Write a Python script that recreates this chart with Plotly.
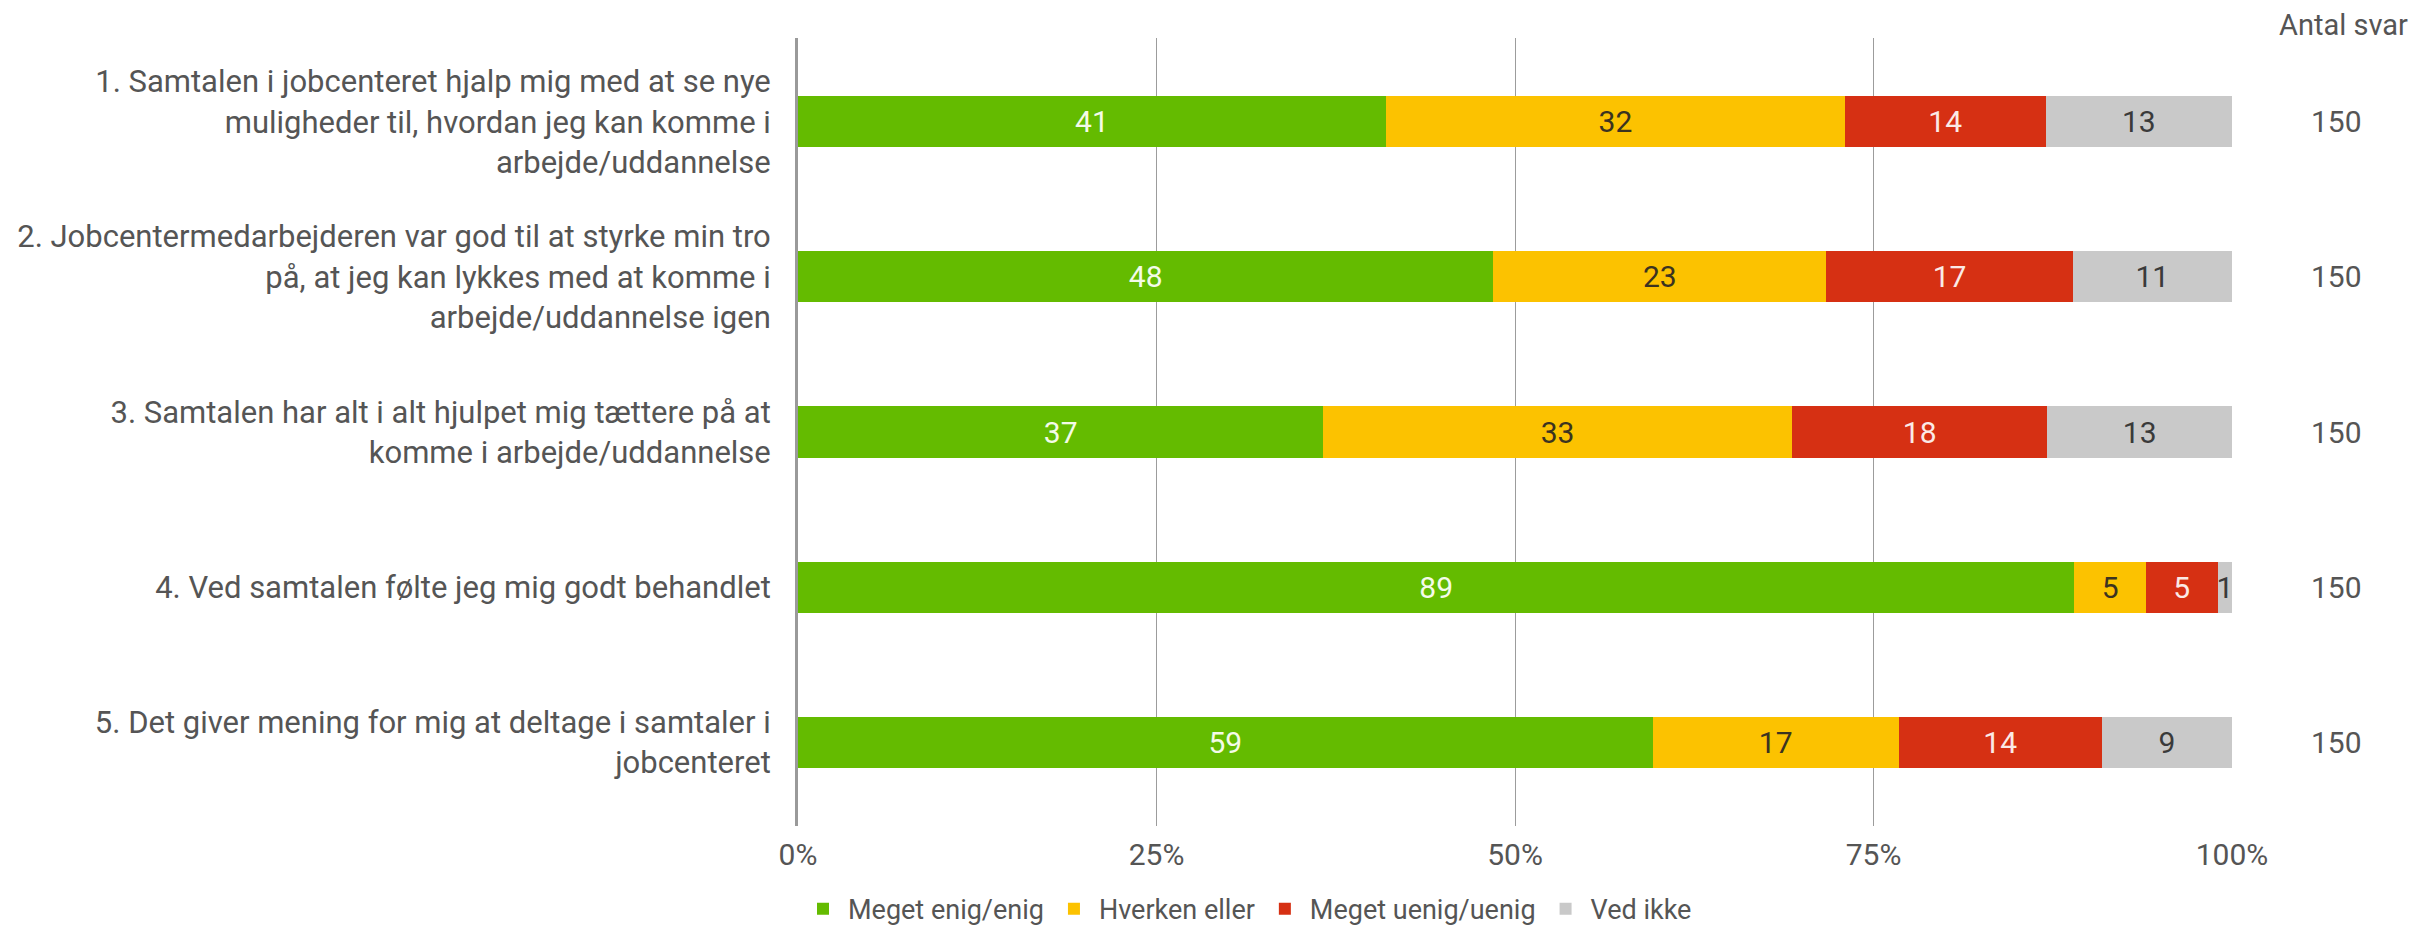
import plotly.graph_objects as go

# Survey statements (y-axis categories, top to bottom)
statements = [
    "1. Samtalen i jobcenteret hjalp mig med at se nye<br>muligheder til, hvordan jeg kan komme i<br>arbejde/uddannelse",
    "2. Jobcentermedarbejderen var god til at styrke min tro<br>på, at jeg kan lykkes med at komme i<br>arbejde/uddannelse igen",
    "3. Samtalen har alt i alt hjulpet mig tættere på at<br>komme i arbejde/uddannelse",
    "4. Ved samtalen følte jeg mig godt behandlet",
    "5. Det giver mening for mig at deltage i samtaler i<br>jobcenteret",
]

# Answer shares (percent) per response category
meget_enig = [41, 48, 37, 89, 59]
hverken = [32, 23, 33, 5, 17]
meget_uenig = [14, 17, 18, 5, 14]
ved_ikke = [13, 11, 13, 1, 9]

# Number of responses per statement
antal_svar = [150, 150, 150, 150, 150]

series_names = ["Meget enig/enig", "Hverken eller", "Meget uenig/uenig", "Ved ikke"]
series_values = [meget_enig, hverken, meget_uenig, ved_ikke]
series_colors = ["#64bb00", "#fcc200", "#d63013", "#c9c9c9"]
label_colors = ["#f4fbe8", "#3b3320", "#fbeae6", "#3a3a3a"]

x_ticks = [0, 25, 50, 75, 100]
x_tick_labels = ["0%", "25%", "50%", "75%", "100%"]

FONT = "Roboto"
TEXT_GREY = "#555555"
FS = 30

fig = go.Figure()
for name, vals, col, tcol in zip(series_names, series_values, series_colors, label_colors):
    fig.add_trace(go.Bar(
        y=statements,
        x=vals,
        name=name,
        orientation="h",
        marker=dict(color=col, line=dict(width=0)),
        text=[str(v) for v in vals],
        texttemplate="%{text}",
        textposition="inside",
        insidetextanchor="middle",
        textangle=0,
        textfont=dict(color=tcol, size=FS, family=FONT),
        width=0.33,
    ))

# Response counts to the right of each bar
for s, n in zip(statements, antal_svar):
    fig.add_annotation(
        x=1.0732, xref="paper", y=s, yref="y",
        text=str(n), showarrow=False,
        font=dict(size=FS, color=TEXT_GREY, family=FONT),
        xanchor="center", yanchor="middle",
    )
fig.add_annotation(
    x=1.124, xref="paper", y=1.0165, yref="paper",
    text="Antal svar", showarrow=False,
    font=dict(size=29, color=TEXT_GREY, family=FONT),
    xanchor="right", yanchor="middle",
)

fig.update_layout(
    width=2412, height=926,
    margin=dict(l=798, r=180, t=38, b=100, autoexpand=False),
    barmode="stack",
    barnorm="percent",
    plot_bgcolor="white",
    paper_bgcolor="white",
    font=dict(family=FONT, size=FS, color=TEXT_GREY),
    uniformtext=dict(minsize=FS, mode="show"),
    showlegend=True,
    legend=dict(
        orientation="h",
        x=0.0, xanchor="left",
        y=-0.1057, yanchor="middle",
        font=dict(size=27, color=TEXT_GREY, family=FONT),
        traceorder="normal",
        itemwidth=40,
        bgcolor="rgba(0,0,0,0)",
    ),
    xaxis=dict(
        range=[0, 100],
        tickvals=x_ticks,
        ticktext=x_tick_labels,
        showgrid=True,
        gridcolor="#9c9c9c",
        gridwidth=1,
        zeroline=False,
        showline=False,
        ticks="",
        ticklabelstandoff=8,
        tickfont=dict(size=FS, color=TEXT_GREY, family=FONT),
    ),
    yaxis=dict(
        range=[4.54, -0.54],
        showgrid=False,
        zeroline=False,
        showline=True,
        linecolor="#9a9a9a",
        linewidth=3,
        ticks="",
        ticklabelstandoff=18,
        tickfont=dict(size=31, color=TEXT_GREY, family=FONT),
    ),
)

fig.write_html("out.html")
